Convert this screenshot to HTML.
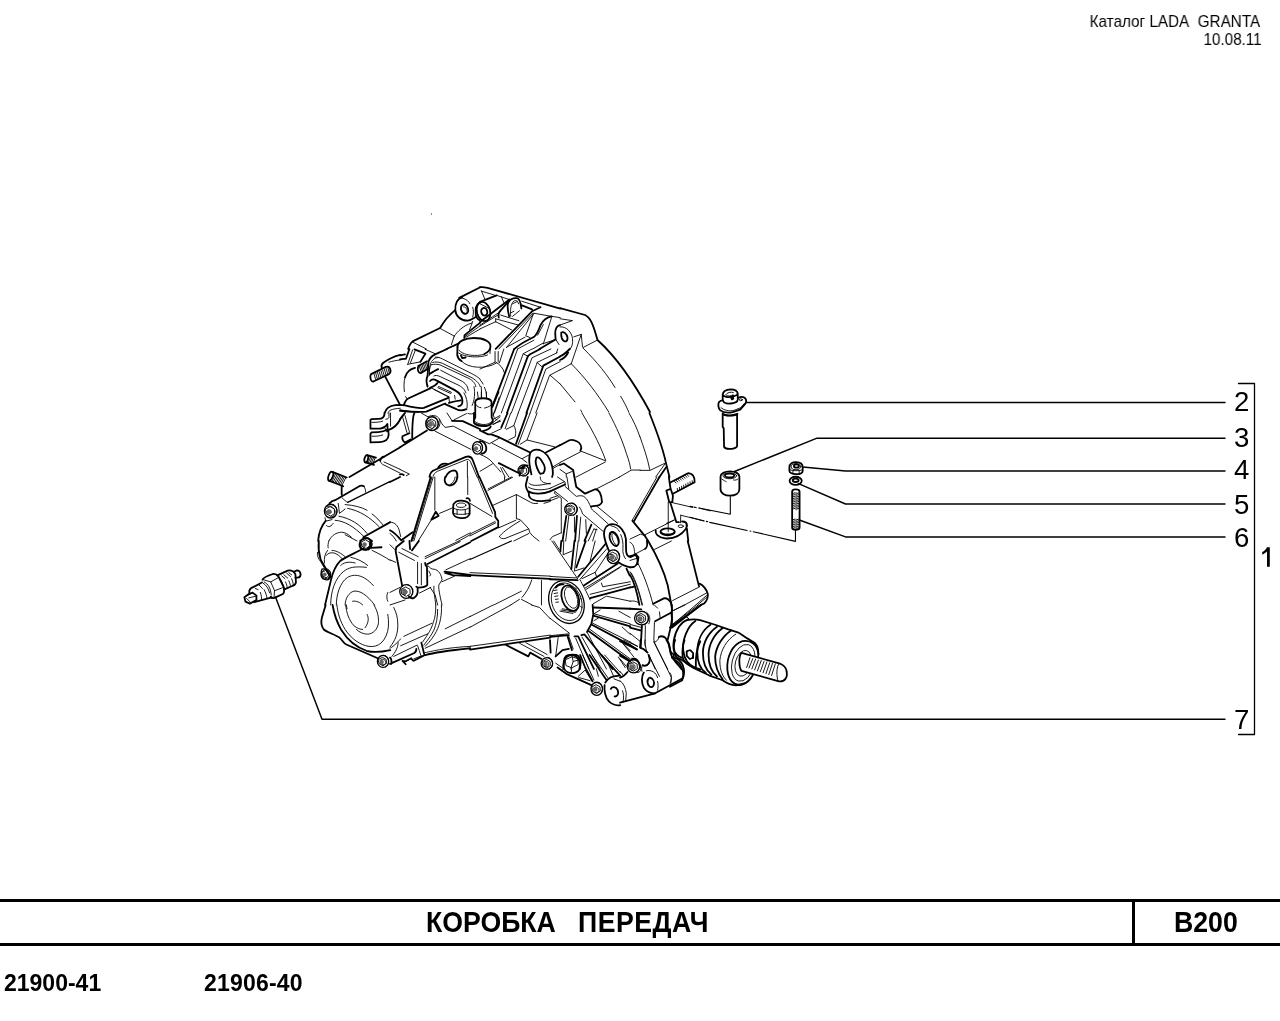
<!DOCTYPE html>
<html><head><meta charset="utf-8">
<style>
html,body{margin:0;padding:0;background:#fff;width:1280px;height:1021px;overflow:hidden}
body{position:relative;font-family:"Liberation Sans",sans-serif;color:#000}
.t{position:absolute;line-height:1;white-space:nowrap;will-change:transform}
.hdr{font-size:15.2px;right:20px;text-align:right}
.num{font-size:26.67px}
.dg{font-size:27.6px}
.b{font-weight:bold}
.hl{position:absolute;left:0;width:1280px;height:3px;background:#000}
svg{position:absolute;left:0;top:0}
#draw *{vector-effect:non-scaling-stroke}
.k{stroke-width:1.8}
.m{stroke-width:1.3}
.n{stroke-width:0.9}
</style></head><body>
<div class="t hdr" style="top:12.7px;font-size:16.4px;transform:scaleX(0.931);transform-origin:100% 0">Каталог LADA&nbsp; GRANTA</div>
<div class="t hdr" style="top:31.2px;right:18.5px;font-size:16.4px;transform:scaleX(0.927);transform-origin:100% 0">10.08.11</div>

<div class="hl" style="top:899px"></div>
<div class="hl" style="top:943px"></div>
<div style="position:absolute;left:1132px;top:899px;width:3px;height:47px;background:#000"></div>
<div class="t num b" style="left:426px;top:908.5px;transform:scaleY(1.1236);transform-origin:0 12.6px">КОРОБКА</div>
<div class="t num b" style="left:578px;top:908.5px;letter-spacing:0.5px;transform:scaleY(1.1236);transform-origin:0 12.6px">ПЕРЕДАЧ</div>
<div class="t num b" style="left:1174px;top:908.5px;transform:scaleY(1.1236);transform-origin:0 12.6px">B200</div>
<div class="t b" style="font-size:23px;left:3.7px;top:972px">21900-41</div>
<div class="t b" style="font-size:23px;left:203.7px;top:972px;letter-spacing:0.2px">21906-40</div>

<div class="t num dg" style="left:1234px;top:388px">2</div>
<div class="t num dg" style="left:1234px;top:424px">3</div>
<div class="t num dg" style="left:1234px;top:455.5px">4</div>
<div class="t num dg" style="left:1234px;top:491px">5</div>
<div class="t num dg" style="left:1234px;top:523.5px">6</div>
<div class="t num dg" style="left:1234px;top:706px">7</div>

<div style="position:absolute;left:431px;top:213px;width:1px;height:2px;background:#888"></div>
<svg width="1280" height="1021" viewBox="0 0 1280 1021" fill="none" stroke="#000" stroke-linejoin="round" stroke-linecap="round">
<!-- bracket -->
<path fill="#000" stroke="none" d="M1267,547.2 L1269.8,547.2 L1269.8,566.8 L1267,566.8 L1267,551.6 C1265.6,553 1264,554 1262.3,554.8 L1262.2,552.1 C1264.4,551 1266,549.4 1267,547.2 Z"/>
<path d="M1238.5 383.5H1254.5V734.5H1238.5" stroke-width="1.3"/>
<!-- leaders -->
<g stroke-width="1.45">
<path d="M746 402.5H1225"/>
<path d="M734.5 471.5L817 438.2H1225"/>
<path d="M802.6 467L845.5 471H1225"/>
<path d="M798.5 483.6L845.5 504H1225"/>
<path d="M800 520.2L845.5 536.9H1225"/>
<path d="M275.5 597L322 719.2H1225"/>
</g>
<!-- DRAWING -->
<g id="draw" stroke-width="1.1">
<!-- Q1 400,285 s15.95 -->
<g transform="translate(400 285) scale(0.0627)">
<path class="k" d="M990,200 C920,210 875,300 882,400 C890,490 960,570 1080,568 C1130,565 1170,530 1215,505"/>
<path class="k" d="M945,205 L1280,35"/>
<path class="n" d="M1000,210 C1060,230 1100,260 1115,300 M1160,355 C1175,400 1175,460 1160,510"/>
<ellipse class="k" cx="1030" cy="385" rx="55" ry="78" transform="rotate(-20 1030 385)"/>
<path class="n" d="M1010,350 C1040,340 1070,380 1070,420 C1070,450 1050,460 1030,450"/>
<path class="k" d="M130,1020 C150,960 170,920 200,900 L640,685 C700,580 780,480 880,400"/>
<path class="n" d="M635,690 L865,815 M865,815 L820,950 M865,815 C920,740 1000,650 1150,605 L1160,580 M1150,610 L1110,710 M200,910 L420,1020"/>
<path class="k" d="M1025,845 L1030,800 L1280,600"/>
<path class="n" d="M1040,820 L1280,650 M1050,835 L1280,700"/>
<path class="k" d="M740,1020 L940,930"/>
<path class="k" d="M1270,280 C1210,310 1200,400 1210,480 C1220,520 1240,550 1270,560"/>
</g>
<!-- T:t480_285 -->
<g transform="translate(480 285) scale(0.06270)">
<path class="k" d="M0,35 C40,30 80,35 120,45 L1280,375"/>
<path class="k" d="M0,270 L265,165"/>
<path class="n" d="M265,165 L460,230 M20,90 L75,220 M30,100 L230,160 M340,185 L380,280 M0,300 L160,380"/>
<path class="k" d="M0,590 L470,232"/>
<path class="n" d="M0,640 L330,420 M0,655 L300,470"/>
<path class="k" d="M300,520 C290,480 295,450 310,430 L470,245"/>
<path class="k" d="M465,500 C445,420 430,330 450,280 C480,220 540,205 590,210 C630,215 650,280 660,375"/>
<path class="n" d="M490,500 C480,400 490,300 540,255 C580,240 600,250 615,300 M520,500 L630,410 M500,440 L540,420 M520,300 L600,260"/>
<path class="k" d="M670,325 L830,390"/>
<path class="n" d="M665,258 L965,355"/>
<path class="k" d="M965,355 L830,418"/>
<path class="k" d="M250,1020 L830,420"/>
<path class="n" d="M300,1020 L845,450 M420,1000 L860,455"/>
<path class="n" d="M250,540 L250,590 M250,540 L600,635 M260,590 L510,720 M330,480 L620,570 M0,700 L250,585"/>
<path class="n" d="M860,450 L1140,500 L1280,520"/>
<path class="k" d="M1145,500 C1060,515 1000,570 965,640 C940,710 915,780 870,820 C800,870 680,900 550,1020"/>
<path class="n" d="M1140,520 L1010,940 M1010,630 L920,800 M850,460 L730,810 L800,840 M720,830 L430,990 M860,880 L600,1020"/>
<path class="k" d="M1275,640 C1220,655 1200,700 1200,770 L1205,870 L950,1020"/>
<path class="n" d="M1000,930 L840,1020 M1210,870 L1260,950 M1010,935 L1200,870"/>
</g>
<!-- /T:t480_285 -->
<!-- T:t560_285s8 -->
<g transform="translate(560 285) scale(0.12500)">
<path class="k" d="M0,185 L200,240 C240,258 262,300 300,440 C400,530 560,720 720,1016"/>
<path class="n" d="M300,440 L185,500 M185,505 C300,620 380,720 440,820 M485,890 C510,930 530,970 550,1016"/>
<path class="n" d="M90,630 L170,395 L110,415 M170,395 L180,495 M90,630 L0,680 M90,630 C200,740 300,870 390,1016 M0,790 C50,850 90,900 120,935 M165,1000 L175,1016"/>
<path class="n" d="M0,320 L100,285 L0,270"/>
<path class="n" d="M0,335 C55,330 95,380 100,430 C105,470 95,500 80,510"/>
<path class="k" d="M10,380 C30,370 55,390 60,420 C62,445 50,455 35,450 C15,440 8,410 10,380 Z"/>
<path class="k" d="M0,570 C30,560 60,530 80,510 M0,600 C30,590 50,570 65,540"/>
</g>
<!-- /T:t560_285s8 -->
<!-- T:t320_349 -->
<g transform="translate(320 349) scale(0.06270)">
<path class="k" d="M1280,95 C1180,120 1080,170 1010,220 C985,240 975,270 985,300"/>
<path class="n" d="M1280,175 C1220,180 1150,195 1100,210"/>
<path class="k" d="M815,400 L1050,285 C1080,275 1110,290 1120,320 C1130,350 1120,385 1100,400 L860,515 C835,525 815,510 808,480 C800,450 800,420 815,400 Z"/>
<path class="n" stroke-width="1.2" d="M887,486 L862,398 M914,473 L889,386 M942,461 L917,373 M969,448 L944,361 M997,436 L972,348 M1024,423 L999,336 M1052,411 L1027,323 M1079,398 L1054,311 M1107,386 L1082,298"/>
<path class="k" d="M1040,440 L1270,880"/>
<path class="k" d="M1030,1020 C1050,950 1110,905 1200,895 L1280,893"/>
<path class="n" d="M1085,1020 C1090,980 1140,955 1280,945"/>
</g>
<!-- /T:t320_349 -->
<!-- T:t400_349 -->
<g transform="translate(400 349) scale(0.06270)">
<path class="k" d="M230,5 L405,75 L325,205 M0,100 L80,85 M0,165 L95,155 M150,0 L95,155"/>
<path class="n" d="M120,245 L325,205 M200,15 L125,240 M240,30 L165,225 M400,5 L560,75"/>
<path class="k" d="M750,0 L560,85 C510,110 470,150 455,200 L440,430"/>
<path class="k" d="M290,270 L430,195 M440,320 L330,385 C300,385 280,350 285,300 C288,280 292,272 300,268"/>
<path class="n" stroke-width="1.2" d="M338,361 L307,275 M360,349 L330,263 M383,337 L352,251 M405,325 L375,239 M428,313 L397,227 M450,301 L419,215"/>
<path class="k" d="M240,300 C150,320 100,380 80,450"/>
<path class="n" d="M80,450 C60,520 60,600 70,680 M90,760 L110,790"/>
<path class="n" d="M560,130 C600,125 640,140 680,160 L1100,370 C1200,420 1260,460 1280,480 M520,215 C560,200 620,205 680,230 L1150,460 C1230,510 1270,560 1280,600 M500,250 C540,240 600,240 640,255 L1100,470 C1170,510 1200,550 1210,600 M540,430 C560,415 600,420 640,440 L940,580 C1010,620 1040,660 1050,700 M650,340 L1000,520 C1060,560 1080,600 1090,660 M470,370 C470,300 480,260 500,250"/>
<path class="k" d="M610,320 C560,340 500,380 470,400 M440,430 C420,470 420,540 440,600 M480,510 C500,485 540,480 580,500 L880,660 C950,700 990,750 995,820 C1000,880 970,910 930,915 M600,540 C580,570 540,600 480,620"/>
<path class="k" d="M60,890 C80,840 100,800 130,790 L490,625 M0,890 L80,900 C200,930 330,950 380,940 L770,780"/>
<path class="n" d="M510,625 L790,770 M540,645 L780,765 M620,600 L820,690 L810,710 L610,620 Z M0,970 C100,990 200,1000 300,1010 M780,780 L790,860"/>
<path class="k" d="M780,860 C850,840 920,825 970,820 M720,880 L900,960 C950,985 1000,985 1060,960"/>
<path class="k" d="M1200,850 C1220,810 1250,790 1280,790"/>
</g>
<!-- /T:t400_349 -->
<!-- T:t480_349 -->
<g transform="translate(480 349) scale(0.06270)">
<path class="k" d="M195,920 L545,0 M430,1020 L765,110 L800,85 L960,0 M740,1020 L1010,265 L1280,120"/>
<path class="n" d="M230,1020 L600,0 M340,1020 L690,75 L830,0 M500,1020 L830,140 L1130,0 M610,1020 L900,250 L910,215 L1230,60 M800,1020 L1050,320 L1280,200 M890,1020 L1110,420 L1280,330 M1120,420 L1280,560 M690,75 L770,120 M910,215 L990,285 M1240,0 L1220,60"/>
<path class="n" d="M0,320 L240,210 L240,40 M290,210 L290,40 M250,210 C310,240 370,300 390,380 M380,0 L310,220"/>
<path class="n" d="M20,600 C25,650 25,720 25,780 M70,610 C90,650 105,700 105,780 M0,490 C20,510 40,540 50,560"/>
</g>
<!-- /T:t480_349 -->
<!-- T:t320_413 -->
<g transform="translate(320 413) scale(0.06270)">
<path class="k" d="M1030,0 C1030,60 1000,95 930,95 L820,98 L805,110 L805,250 L960,248 C1010,240 1050,220 1075,175 L1080,290"/>
<path class="k" d="M1080,260 C1040,285 1000,302 930,305 L820,310 L805,330 L805,470 L950,465 C1040,460 1090,420 1095,350 L1090,290"/>
<path class="n" d="M830,150 C900,150 960,145 1000,130 M830,370 C900,375 960,365 1000,350 M1020,220 C1040,240 1050,270 1060,300 M1100,0 L1100,60 C1100,80 1090,95 1050,100 M1125,0 L1125,210"/>
<path class="k" d="M1280,100 C1240,180 1180,240 1100,270"/>
<path class="k" d="M470,1020 L1280,545"/>
<path class="n" d="M960,760 C970,800 990,820 1020,830 L1280,960 M1020,780 L1280,900"/>
<path class="k" d="M960,760 C970,720 990,695 1020,695"/>
</g>
<!-- /T:t320_413 -->
<!-- T:t400_413 -->
<g transform="translate(400 413) scale(0.06270)">
<path class="k" d="M0,100 C30,60 60,20 80,0 M230,0 C200,50 195,150 195,400"/>
<path class="n" d="M40,60 L110,310 M80,40 L150,300"/>
<path class="k" d="M40,370 C30,400 40,450 80,470 L175,420 M40,370 L150,320"/>
<path class="k" d="M0,545 L430,280"/>
<ellipse class="m" cx="510" cy="170" rx="100" ry="110"/>
<ellipse class="n" cx="485" cy="195" rx="60" ry="70"/>
<path class="n" d="M450,60 C520,20 600,40 630,100 C650,160 630,230 590,260"/>
<path class="n" d="M340,0 L460,70 M630,100 C650,140 680,200 720,230 L850,210 L1280,430 M560,290 L1130,580"/>
<path class="n" d="M750,0 L830,125 M860,110 L1060,10"/>
<path class="k" d="M830,125 L1000,130 L1280,260 M1180,0 C1180,60 1175,110 1190,140 L1280,170"/>
<ellipse class="m" cx="1235" cy="555" rx="80" ry="100"/>
<path class="k" d="M470,1020 C480,950 510,920 560,905 L1050,700 C1100,685 1140,700 1160,750 L1260,1020"/>
<path class="n" d="M530,1000 C550,950 590,930 620,920 L1070,740 C1100,735 1120,760 1130,790 L1230,1020 M1075,770 L1075,1020"/>
<path class="k" d="M730,1020 C760,950 810,920 860,915 C900,915 920,960 915,1020 M610,870 C640,820 700,800 750,810"/>
<path class="n" d="M0,900 L150,975 L100,1000"/>
<path class="k" d="M0,980 C20,970 40,975 60,990"/>
</g>
<!-- /T:t400_413 -->
<!-- T:t480_413 -->
<g transform="translate(480 413) scale(0.06270)">
<path class="n" d="M210,0 C210,60 230,100 270,110 M200,180 L330,130 M200,160 L320,60"/>
<path class="k" d="M340,230 L440,0 M575,490 L750,0"/>
<path class="n" d="M400,250 L490,0 M420,260 L540,200 L610,0 M540,200 C570,250 580,310 560,380 L460,430 M610,500 L800,0 M750,430 L910,0 M640,500 L750,430 L1190,540"/>
<path class="k" d="M0,280 L130,340 L180,340 L310,390 L800,630"/>
<path class="n" d="M0,420 L150,490 L310,400 M190,320 L340,250 M190,480 L670,730 L780,670 M680,740 L750,790"/>
<path class="k" d="M800,640 C830,590 900,580 950,590 C1050,620 1120,720 1150,850 C1170,950 1160,1000 1150,1020 M800,640 C780,700 780,780 800,880 L820,980"/>
<path class="k" d="M900,710 C880,760 890,850 940,940 L960,970 L1010,960 C1040,920 1040,850 1000,790 C970,730 930,700 900,710 Z"/>
<path class="k" d="M1050,630 L1280,510"/>
<path class="n" d="M1170,880 L1280,820 M1160,860 L1280,790"/>
<path class="k" d="M300,800 L600,950 M650,880 C700,840 740,830 760,840 M630,1000 C640,950 660,900 700,880"/>
<path class="n" d="M0,930 L200,810 M0,660 C80,690 150,730 200,790 C250,850 300,900 330,940 M330,870 C350,920 380,980 400,1020 M360,870 L460,1020"/>
<path class="k" d="M0,450 C50,450 90,490 100,550 C105,600 80,640 30,650"/>
</g>
<!-- /T:t480_413 -->
<!-- T:t560_413 -->
<g transform="translate(560 413) scale(0.06270)">
<path class="k" d="M0,515 L150,435 C170,428 200,428 230,435 C290,450 340,500 340,560 L325,600"/>
<path class="n" d="M350,0 C480,220 620,450 730,760 M325,605 L720,760 M325,620 L0,790 M725,780 L260,1020 M780,0 C900,220 1000,450 1060,650 C1100,760 1120,830 1125,890 M1100,0 C1170,120 1230,250 1275,380 M1135,910 L1280,910 M1130,915 L950,1020 M0,900 L100,970 L200,930 M100,970 L100,1020"/>
<path class="k" d="M0,830 L60,805 L210,910 L230,1020"/>
</g>
<!-- /T:t560_413 -->
<!-- T:t640_413 -->
<g transform="translate(640 413) scale(0.06270)">
<path class="k" d="M150,0 C250,250 350,500 410,780 L470,1020"/>
<path class="n" d="M0,380 C60,550 120,720 155,900 M0,915 L160,915 L400,800 M250,1020 L400,810"/>
<path class="k" d="M310,1020 L420,860"/>
</g>
<!-- /T:t640_413 -->
<!-- T:t310_477 -->
<g transform="translate(310 477) scale(0.06270)">
<path class="k" d="M505,150 L505,280 M310,420 C330,400 360,380 400,370 L800,140 C830,135 850,140 860,150"/>
<path class="m" d="M600,405 L1280,70"/>
<path class="n" d="M860,150 C880,180 890,210 885,240 M510,330 C540,360 570,390 600,405"/>
<ellipse class="m" cx="330" cy="545" rx="100" ry="110"/>
<path class="n" d="M270,470 C320,450 380,480 400,540 C410,600 370,640 320,640 M260,560 C280,520 320,520 340,560"/>
<path class="k" d="M250,700 C180,780 140,880 130,1020"/>
<path class="n" d="M240,650 C240,680 250,700 270,700 L350,680 M260,770 C280,800 320,810 370,740 M560,440 C700,450 820,480 910,530 M600,500 C800,540 950,640 1100,790 M990,590 C1060,640 1110,700 1160,760 M460,625 C650,660 800,760 910,900 M400,690 C550,700 700,790 860,950 M450,420 L470,580 L560,510"/>
<path class="k" d="M850,960 L1280,720 M800,1020 C830,990 880,970 930,980 L990,1020"/>
<path class="n" d="M300,1020 C350,920 420,890 500,880 C560,880 620,920 660,960 M560,920 L750,1020"/>
</g>
<!-- /T:t310_477 -->
<!-- T:t390_477 -->
<g transform="translate(390 477) scale(0.06270)">
<path class="k" d="M0,80 L160,0 M650,0 L340,1020"/>
<path class="n" d="M690,0 L380,1020 M670,0 L360,1020 M715,0 L715,530 M1240,0 L1240,280 M790,580 L990,495 M655,690 L450,1020"/>
<path class="k" d="M880,0 C860,60 880,120 940,135 C990,140 1030,110 1060,60 L1075,0"/>
<path class="n" d="M1040,0 C1030,60 1000,100 960,120"/>
<path class="k" d="M660,680 L730,555 L775,620 Z"/>
<path class="k" d="M1010,440 C1040,390 1090,375 1140,378 C1200,382 1260,410 1270,450 L1270,590 C1250,640 1190,660 1130,655 C1060,650 1010,620 1005,570 Z"/>
<ellipse class="n" cx="1135" cy="450" rx="75" ry="35"/>
<path class="n" d="M1020,500 C1050,520 1100,525 1140,525 C1200,525 1240,510 1265,490 M1070,520 L1070,600 M1200,520 L1200,600 M1020,580 C1060,600 1180,605 1260,580"/>
<path class="k" d="M1220,340 C1250,330 1270,350 1275,380"/>
<path class="n" d="M0,720 C80,720 130,780 150,860 L170,950"/>
<path class="k" d="M0,850 C60,880 120,940 180,1010 L360,880"/>
<path class="n" d="M0,900 C40,930 80,980 100,1020 M1050,1010 L1280,890 M1100,1020 L1280,920"/>
</g>
<!-- /T:t390_477 -->
<!-- T:t470_477 -->
<g transform="translate(470 477) scale(0.06270)">
<path class="k" d="M150,0 L400,560 L405,640 L450,700 L450,800 L20,1020"/>
<path class="n" d="M120,0 L360,580 M0,420 L350,630 M0,910 L400,710 M0,940 L410,730 M285,215 L680,5 M290,190 L660,0 M550,0 L550,40"/>
<path class="n" d="M370,450 L740,280 L960,400 C990,420 1040,430 1080,420 M740,280 L740,660 M460,810 L730,690 M740,665 L800,680 L940,830 L950,880 L1000,940 L1100,1020 M470,950 C500,900 600,820 800,700 M470,950 C480,980 520,990 560,980 L930,830 M700,1020 L940,900"/>
<path class="k" d="M920,0 C910,50 890,100 890,140 C900,200 930,240 940,260 L940,300 C960,360 1050,390 1150,385 L1280,370 M940,230 C1000,270 1150,280 1280,230"/>
<path class="n" d="M940,100 C980,140 1050,150 1280,100 M930,160 C1000,210 1150,220 1280,180 M1120,0 C1120,60 1150,100 1280,110 M1180,420 L1280,390"/>
</g>
<!-- /T:t470_477 -->
<!-- T:t550_477 -->
<g transform="translate(550 477) scale(0.06270)">
<path class="k" d="M0,230 L240,120"/>
<path class="n" d="M0,180 L220,80 M0,380 L130,330 M0,340 L120,300 M120,0 L240,80 L240,130 M270,0 L300,190 M240,150 L420,310 C450,300 500,290 540,310 C600,350 630,430 650,480 M80,230 L280,390 M80,230 L70,260 L180,340 L180,890 M0,1000 L40,950 L180,890"/>
<path class="k" d="M390,0 C400,60 410,120 420,160 L550,260 M560,265 L720,195 C780,200 820,260 830,400 C810,440 760,460 720,460 L660,470"/>
<path class="n" d="M740,190 L1110,0 M650,480 C660,520 690,540 720,560 L930,750 M740,460 L1080,740 M470,480 C500,520 510,560 520,590 L850,870"/>
<ellipse class="m" cx="335" cy="515" rx="100" ry="98"/>
<path class="n" d="M260,470 C300,450 360,470 380,520 M280,560 C300,600 340,600 360,580"/>
<path class="k" d="M260,620 L200,1020 M430,620 L400,1020 M660,760 L550,1020"/>
<path class="n" d="M300,620 L250,1020 M390,640 L390,880 M490,640 L460,1020 M570,680 L580,900 M700,830 L610,1020 M740,830 L680,1020 M700,830 L750,840"/>
</g>
<!-- /T:t550_477 -->
<!-- T:t630_477 -->
<g transform="translate(630 477) scale(0.06270)">
<path class="k" d="M470,0 L60,710 M40,700 L230,930 L290,1020"/>
<path class="n" d="M430,0 L35,690 M0,990 L170,910 L250,940 M240,920 L700,690 M580,740 L720,680"/>
<path class="k" d="M620,0 C630,80 640,150 650,200 M580,215 L650,190 L685,300 L675,400 L625,400 Z M640,400 L740,720 L780,720"/>
<path class="n" d="M610,400 L610,870"/>
<path class="n" d="M680,410 L1000,485 M1040,485 L1060,490 M1100,495 L1280,540 M810,610 L1180,700 M1220,710 L1240,712 M810,610 L805,730"/>
<path class="k" d="M410,850 C400,900 440,960 560,980 C700,990 800,950 890,830 L910,780 C910,730 880,710 830,710 M900,760 C910,850 920,950 930,1020"/>
<ellipse class="k" cx="600" cy="875" rx="115" ry="55"/>
<path class="k" stroke-width="3" d="M500,885 C530,925 670,930 705,885"/>
<ellipse class="n" cx="810" cy="785" rx="42" ry="22"/>
</g>
<!-- /T:t630_477 -->
<!-- T:t310_541 -->
<g transform="translate(310 541) scale(0.06270)">
<path class="k" d="M140,0 C130,100 140,200 170,300 L340,590"/>
<path class="n" d="M120,180 C110,230 130,280 170,330 L320,580 M300,0 C290,40 280,80 290,110 M280,150 C240,200 220,270 230,350"/>
<path class="m" d="M190,450 C240,430 300,480 320,560 C320,600 300,620 270,620 C220,615 180,590 175,540 C175,500 180,470 190,450 Z"/>
<path class="k" d="M240,1020 L340,600 C370,480 420,380 480,320 C540,270 620,240 860,115"/>
<path class="n" d="M350,150 C420,150 500,200 560,250 M260,230 C280,200 320,180 380,190 C420,200 480,240 520,290 M490,390 C530,350 600,320 720,350 M650,260 C750,280 850,330 920,390 M330,1020 C330,800 400,600 530,490 C620,420 700,400 900,420 M420,1020 C420,850 480,660 600,580 C700,520 850,530 1010,710 M560,1020 C560,920 620,820 700,800 C800,790 900,850 1030,1020 M680,960 C740,950 800,980 840,1020 M990,150 C1100,200 1200,260 1280,310 M1240,820 C1220,860 1220,920 1240,960"/>
<path class="k" d="M800,20 C780,60 790,110 830,130 C880,150 930,130 950,90 M960,0 L975,110 L1140,100"/>
</g>
<!-- /T:t310_541 -->
<!-- T:t390_541 -->
<g transform="translate(390 541) scale(0.06270)">
<path class="k" d="M220,0 L100,100 L90,160 L195,720"/>
<path class="n" d="M0,60 L80,140 M0,300 L90,340 M190,120 L450,250 M140,180 L390,310 M440,340 L440,680 M500,360 L500,700 M560,250 L1100,0 M560,280 L1120,10 M0,820 L160,740 M0,1020 L240,940 M470,830 L650,740"/>
<path class="k" d="M320,130 L310,0 M350,150 L460,0"/>
<path class="k" d="M560,350 C560,380 570,400 590,410 L595,700 C580,720 540,740 450,745 L420,730 M440,760 C450,830 430,880 380,910 C340,920 310,900 300,880"/>
<path class="k" d="M590,370 L1280,20"/>
<ellipse class="m" cx="260" cy="805" rx="105" ry="110"/>
<path class="n" d="M190,790 C200,760 250,760 270,800 C280,840 240,870 210,850"/>
<path class="n" d="M600,390 C640,430 660,450 700,450 C780,460 820,540 830,620 L780,700 C770,750 790,850 830,1020 M640,740 L720,860 L760,1020 M700,720 C690,800 720,900 730,1020 M890,460 L1280,280 M830,650 L1030,560 M620,480 L650,540 L630,560"/>
<path class="k" d="M870,490 L1280,540 M880,510 L1000,545 L1280,560"/>
</g>
<!-- /T:t390_541 -->
<!-- T:t470_541 -->
<g transform="translate(470 541) scale(0.06270)">
<path class="k" d="M0,545 L1280,605"/>
<path class="n" d="M0,505 L1280,560 M985,620 C950,740 890,830 830,900 M380,1020 L820,800 M650,1020 L790,930 M820,930 L990,1020 M1140,630 L1140,1020"/>
<path class="m" d="M0,295 L660,0"/>
</g>
<!-- /T:t470_541 -->
<!-- T:t550_541 -->
<g transform="translate(550 541) scale(0.06270)">
<path class="n" d="M30,0 L440,600 M60,0 L150,140 M220,0 L210,220 L350,160 M450,0 L390,480 L540,430 M720,0 L640,320 M910,120 L480,610 M900,230 L720,500 L510,600 M720,500 L740,560 M1140,400 L560,750 M1120,420 L580,770 M820,670 L840,730 L1280,650 M640,850 L1280,690 M690,1000 L900,880 L1280,960 M480,620 C520,700 580,800 640,940"/>
<path class="k" d="M180,0 L165,170 M390,0 L340,450 M570,0 L420,420 M890,40 L450,570 M1080,360 L540,710 M640,910 L1280,740"/>
<ellipse class="m" cx="1010" cy="250" rx="100" ry="110"/>
<path class="n" d="M930,230 C960,200 1020,210 1040,260 C1050,300 1020,330 990,320"/>
<path class="k" d="M1090,340 C1150,380 1200,410 1280,420 M1220,440 L1270,550"/>
<path class="k" d="M0,610 L440,625"/>
<path class="n" d="M0,565 L430,590"/>
</g>
<!-- /T:t550_541 -->
<!-- T:t630_541 -->
<g transform="translate(630 541) scale(0.06270)">
<path class="k" d="M290,0 C420,220 540,480 600,700 L660,1020 M920,0 L1100,720"/>
<path class="k" d="M270,0 C280,60 270,110 240,125 M0,240 C40,240 70,220 90,210 L135,260 C130,330 100,400 60,415 L0,420 M0,540 C60,640 110,800 150,1020 M0,740 C30,740 60,730 70,720"/>
<path class="n" d="M0,20 C50,40 70,100 75,200 M80,210 L240,125 M390,135 L660,0 M0,310 L130,270 M120,345 C220,530 300,760 370,1020 M0,490 C80,620 140,800 190,1020 M20,510 C100,640 150,820 200,1020 M680,950 L1110,730 M870,1020 L1220,830 M0,960 C50,950 100,960 130,980"/>
<path class="k" d="M370,1000 L540,915 C580,905 620,930 660,990 M1110,680 C1170,710 1220,780 1240,840 C1250,900 1220,960 1180,1000 L1130,1020"/>
<path class="n" d="M1050,1020 L1220,870 M1080,1020 L1230,890"/>
</g>
<!-- /T:t630_541 -->
<!-- T:t670_605 -->
<g transform="translate(670 605) scale(0.09405)">
<path class="k" d="M180,160 C230,150 280,150 320,160 L480,210 L620,260 L720,290 C760,310 790,340 830,360 L880,390 C920,410 940,450 940,520"/>
<path class="k" d="M60,540 C80,570 100,575 120,580 L250,670 L420,750 L560,800 C600,830 640,850 700,855 L800,830"/>
<path class="k" d="M180,160 C120,180 60,260 40,380 C30,450 40,500 60,540"/>
<path class="k" d="M270,170 C180,230 130,380 140,480 C150,580 200,640 270,670 M430,210 C340,270 290,380 290,500 C290,600 320,680 380,720 M500,230 C410,290 350,400 350,510 C350,620 390,700 440,740 M560,245 C470,310 410,420 410,530 C410,640 450,720 500,760 M650,270 C560,330 490,440 480,550 C480,660 520,740 560,790"/>
<path class="n" d="M700,310 C600,370 540,480 530,590 C530,700 560,760 600,800"/>
<path class="m" d="M180,490 L220,480 L245,510 L240,560 L210,575 L180,540 Z"/>
<path class="k" d="M940,520 C930,680 870,820 760,850 C680,860 620,800 610,690 C600,560 660,420 770,385 C860,370 930,420 940,520"/>
<ellipse class="n" cx="780" cy="615" rx="120" ry="200" transform="rotate(15 780 615)"/>
<ellipse class="n" cx="780" cy="620" rx="85" ry="140" transform="rotate(15 780 620)"/>
<path class="k" fill="#fff" d="M760,510 L1160,620 C1230,640 1250,700 1240,760 C1230,800 1190,820 1150,810 L760,700 C730,660 730,540 760,510 Z"/>
<path class="n" d="M1160,620 C1130,660 1130,760 1150,810"/>
<path class="n" stroke-width="1.4" d="M850,560 L815,665 M880,570 L840,670 M910,575 L870,680 M940,585 L900,690 M970,590 L930,700 M1000,600 L960,710 M1030,605 L990,720 M1060,615 L1020,730 M1090,620 L1050,740 M1120,625 L1080,750"/>
<path class="k" d="M20,0 L20,200 M0,240 L330,0 M0,870 L130,800 C150,750 140,680 100,620 C70,590 40,580 20,560"/>
<path class="n" d="M30,60 L160,0 M20,210 L300,0 M170,120 L200,150 M0,720 C20,740 20,800 0,830"/>
</g>
<!-- /T:t670_605 -->
<!-- T:t310_605 -->
<g transform="translate(310 605) scale(0.06270)">
<path class="k" d="M250,0 L190,200 C170,280 180,340 220,390 C280,440 400,470 470,520 C520,560 530,610 580,630 L1080,850"/>
<path class="k" d="M360,0 C380,120 420,260 500,400 C600,560 750,680 900,730 C1000,760 1100,760 1280,720"/>
<path class="n" d="M430,0 C440,120 480,260 560,390 C660,540 800,640 940,660 C1020,670 1080,650 1130,610 C1200,550 1240,450 1250,350 C1255,260 1250,200 1240,150 M570,0 C580,120 620,240 700,330 C750,370 800,390 840,390 M1020,0 C1080,100 1100,200 1090,300 C1070,400 1000,460 920,465 C850,465 780,430 740,390 M910,150 C940,200 940,280 880,360 M580,0 L590,60"/>
<ellipse class="m" cx="1165" cy="900" rx="90" ry="95"/>
<path class="n" d="M1120,880 C1140,850 1200,860 1210,910 C1210,950 1170,960 1140,940"/>
</g>
<!-- /T:t310_605 -->
<!-- T:t390_605 -->
<g transform="translate(390 605) scale(0.06270)">
<path class="n" d="M60,40 C100,120 125,200 125,320 C125,450 90,560 0,670 M170,540 C100,620 30,680 0,690 M130,600 C130,680 80,760 30,820 M220,500 L670,290 M170,650 L600,460 M60,820 L430,640 M880,380 L1280,180 M560,690 L1280,350"/>
<path class="n" d="M730,0 C730,120 720,200 690,280 C660,380 620,450 520,590 M760,70 C760,200 740,300 700,400 C670,460 620,540 540,640 M820,0 C830,150 800,300 740,420 C700,500 640,580 560,660"/>
<path class="k" d="M0,940 L380,770 C400,760 420,740 420,700 M500,600 L550,800 L380,890 C360,890 350,870 340,850 L240,900 L200,890 M200,890 L250,945 M0,840 C20,850 30,900 20,940"/>
<path class="n" d="M440,650 C460,700 480,760 490,800 M380,860 L500,810 M250,900 L330,860"/>
<path class="k" d="M560,800 C700,760 900,730 1280,690"/>
<path class="n" d="M560,760 C700,730 900,680 1280,660"/>
</g>
<!-- /T:t390_605 -->
<!-- T:t470_605 -->
<g transform="translate(470 605) scale(0.06270)">
<path class="n" d="M0,185 L370,0 M0,355 L650,0 M980,0 L1110,40 L1280,220 M0,660 L1280,480 M790,610 L1180,820 M890,600 L1230,790"/>
<path class="k" d="M0,710 L1280,520 M560,630 L930,820 L960,760 L1140,860"/>
</g>
<!-- /T:t470_605 -->
<!-- T:t550_605 -->
<g transform="translate(550 605) scale(0.06270)">
<path class="k" d="M680,0 L690,150 L660,300 L590,430"/>
<path class="k" d="M690,40 L1280,60 M690,170 L1280,340 M660,310 L1280,640 M620,420 L1280,900 M500,480 L550,470 L1000,1020 M390,500 L450,500 L700,1020"/>
<path class="n" d="M700,140 L800,80 M700,140 L1280,300 M700,250 L770,210 M680,290 L1280,590 M640,390 L1280,860 M510,510 L800,1020 M410,530 L620,1020 M600,450 L900,1020"/>
<path class="k" d="M0,510 L300,480 M280,500 L350,720 M0,560 L10,760 M90,820 L200,720 L300,700"/>
<path class="n" d="M0,490 L300,460 M0,210 L310,450 M300,500 L370,700 M130,520 L90,820 M1100,100 L1280,200 M1150,350 L1280,470 M1170,620 L1280,730 M1090,830 L1200,1000 M940,940 L990,1020"/>
<path class="k" d="M220,900 C240,840 300,800 360,800 C430,810 480,870 480,950 L470,1020 M220,900 L210,1020"/>
<path class="n" d="M350,810 L370,900 L480,870 M370,900 L330,1020"/>
</g>
<!-- /T:t550_605 -->
<!-- T:t630_605 -->
<g transform="translate(630 605) scale(0.06270)">
<ellipse class="m" cx="185" cy="210" rx="112" ry="108"/>
<path class="n" d="M110,190 C130,150 200,150 220,210 C230,260 190,290 150,280 M270,120 C320,160 330,240 300,300"/>
<path class="k" d="M0,60 L180,70 M0,360 L180,410 M0,640 L110,710 M190,330 L170,680"/>
<path class="n" d="M0,310 L190,360 M0,590 L120,660 M0,450 L160,580 M245,330 L240,640 L270,750 M160,680 L240,710 L270,750 M300,790 L400,1020 M290,800 C320,850 320,920 280,960 L200,970 M470,110 L480,200 M690,90 L860,0 M390,0 L440,50 M390,280 L380,560 L400,590 C420,580 450,560 460,520 M380,590 L600,1020 M680,310 L1050,0 M900,190 L940,220"/>
<path class="k" d="M20,870 C80,830 150,870 160,1000 M400,260 L660,120 M660,0 C670,50 670,100 660,120 L670,220 L650,350 L600,560 M460,510 C500,490 540,500 570,530 C620,590 640,660 640,740 C650,800 680,850 720,900 C760,950 800,990 820,1020 M670,360 L1130,0"/>
</g>
<!-- /T:t630_605 -->
<!-- T:t540_655 -->
<g transform="translate(540 655) scale(0.06270)">
<ellipse class="m" cx="110" cy="135" rx="92" ry="92"/>
<path class="n" d="M50,120 C70,90 130,90 140,140 C140,180 100,200 70,180"/>
<path class="n" d="M250,130 L350,200 M610,340 L720,240 L830,420 M620,360 L800,410 M680,0 L860,400 M830,0 L1080,360 M1030,0 L1280,280 M900,220 L930,340 M1100,170 L1170,330 M1180,380 L1280,420"/>
<path class="k" d="M280,200 L420,300 L820,480 M640,0 L720,200 L840,420 M790,0 L1060,400 M980,0 L1270,320"/>
<ellipse class="m" cx="905" cy="540" rx="92" ry="105"/>
<path class="n" d="M850,540 C860,500 920,500 940,550 C950,590 910,610 880,600"/>
<path class="k" d="M1040,440 C1080,370 1160,330 1280,330 M1030,480 C1020,560 1040,680 1100,740 C1150,790 1230,810 1280,800 M1130,540 C1150,500 1210,500 1240,560 C1260,620 1230,670 1190,660"/>
</g>
<!-- /T:t540_655 -->
<!-- T:t620_640 -->
<g transform="translate(620 640) scale(0.06270)">
<path class="k" d="M0,20 L270,150 M0,250 L140,330 M0,600 C40,590 80,560 120,510"/>
<path class="n" d="M60,0 L280,100 M50,60 L220,270 M0,300 L100,420 M0,500 L50,560 M0,220 L150,310"/>
<ellipse class="m" cx="215" cy="420" rx="100" ry="105"/>
<path class="n" d="M150,400 C170,360 230,370 240,420 C245,470 210,490 180,480 M190,290 C260,290 310,340 330,420 C340,480 320,520 280,520"/>
<path class="k" d="M320,120 L330,0 M320,120 C360,130 400,160 440,200 M360,400 C400,420 440,400 460,370 C480,340 480,300 460,250"/>
<path class="n" d="M400,0 C390,40 400,80 410,110 M450,230 L630,580 M540,20 L820,600 L810,700 M360,400 C340,430 340,470 350,500"/>
<path class="k" d="M380,520 C340,580 340,680 380,760 C420,820 480,850 560,850 L1000,610 C1030,550 1030,480 1000,400 C970,340 930,300 880,290 M460,610 C430,640 430,700 470,740 C500,760 530,750 540,710 C550,670 530,620 480,600"/>
<path class="n" d="M420,490 C500,470 580,520 600,600 M600,660 C610,700 610,760 600,800"/>
<path class="k" d="M0,1000 L560,850 M740,0 C770,40 790,80 790,130 C800,180 830,220 860,230 M860,230 C850,260 860,290 880,290 M880,0 C860,50 850,120 870,180 C890,230 930,260 980,280 M1030,0 C1000,80 990,180 1000,280 C1020,350 1060,400 1220,450 L1280,470 M1280,20 C1230,120 1200,250 1210,450"/>
<path class="m" d="M1060,180 L1110,160 L1170,210 L1170,290 L1110,300 L1060,250 Z"/>
<path class="n" d="M0,650 C60,690 90,770 100,850 L90,980 M40,810 C60,850 60,920 50,990"/>
</g>
<!-- /T:t620_640 -->
<!-- T:p7 -->
<g transform="translate(240 560) scale(0.05485)">
<path class="k" d="M80,680 L160,620 L230,595 L300,650 L300,730 L180,795 L100,760 Z"/>
<path class="n" d="M120,700 L180,760 M130,650 L230,600 M160,690 L290,660"/>
<path class="k" d="M170,600 L170,560 C180,520 210,500 250,490 L400,410 M260,770 L580,680"/>
<path class="n" d="M280,520 L330,540 M350,460 L410,520 M370,590 C390,640 400,700 390,740 M440,540 C470,600 490,650 490,700 M420,420 C480,460 520,520 540,600 M440,400 C520,440 560,520 570,640"/>
<path class="k" d="M410,360 C420,330 460,300 600,255 C650,250 680,270 700,300 L780,460 L800,500 C810,560 810,600 780,620 L630,690 C600,700 570,690 560,670"/>
<path class="n" d="M430,360 L560,400 L700,320 M560,400 L630,560 L790,500 M630,560 L620,680"/>
<path class="k" d="M680,280 L870,195 C900,185 940,195 980,215 L1010,260 L1020,400 C1020,440 990,460 960,470 L800,540"/>
<path class="n" d="M760,290 L820,340 M800,270 L870,330 M850,240 L920,300 M890,230 L940,270 M830,400 C850,440 860,480 860,500 M890,380 C910,420 920,460 920,480 M940,340 C960,380 970,420 970,450 M710,310 C760,380 790,440 800,520"/>
<path class="k" d="M980,215 L1040,190 C1080,190 1100,230 1105,260 C1105,300 1080,320 1050,320 L1010,320"/>
</g>
<!-- /T:p7 -->
<!-- T:p2 -->
<g transform="translate(710 385) scale(0.06859)">
<path class="k" d="M185,220 L185,140 C190,100 240,70 300,65 C360,65 400,90 405,130 L405,210 M185,140 C200,170 260,185 320,170 C370,160 405,140 405,120"/>
<path class="n" d="M230,140 C250,110 300,95 340,110 M240,150 C260,165 310,165 340,150"/>
<path class="k" d="M300,170 L320,210 L340,200 L330,150 M190,230 C200,260 250,275 300,270 C350,265 390,250 400,230"/>
<path class="k" d="M130,250 C115,280 120,340 150,370 C190,400 260,410 330,395 L440,360 L510,280 C530,250 530,210 510,190 C480,170 440,170 410,190 M130,250 C150,230 170,225 185,225"/>
<path class="n" d="M160,330 C200,370 280,385 350,370 L450,330 L500,270"/>
<ellipse class="n" cx="450" cy="215" rx="22" ry="14"/>
<path class="k" d="M185,410 L185,610 L200,630 L205,900 C220,930 280,935 320,930 C360,925 390,910 395,890 L395,420 M185,420 C220,450 330,450 400,420"/>
<path class="n" d="M200,440 C240,460 330,460 390,440"/>
</g>
<!-- /T:p2 -->
<!-- T:p3 -->
<g transform="translate(710 455) scale(0.04895)">
<path class="k" d="M215,440 C215,380 300,335 410,335 C520,335 600,380 600,440 L600,700 C600,780 520,830 410,830 C300,830 215,780 215,700 Z"/>
<ellipse class="n" cx="405" cy="425" rx="140" ry="60"/>
<ellipse class="k" cx="400" cy="420" rx="95" ry="40"/>
<path class="n" d="M240,490 C280,520 320,540 330,545 M480,510 C520,520 550,510 570,490"/>
</g>
<!-- /T:p3 -->
<!-- T:p46 -->
<g transform="translate(780 455) scale(0.07831)">
<path class="k" d="M120,160 C120,110 160,90 205,90 C250,90 290,110 290,160 L290,200 C290,230 250,245 205,245 C160,245 120,230 120,200 Z"/>
<ellipse class="n" cx="205" cy="150" rx="62" ry="38"/>
<ellipse class="k" cx="210" cy="140" rx="32" ry="22"/>
<path class="n" d="M165,200 L165,240 M245,200 L245,240 M130,190 C160,205 250,205 285,190"/>
<ellipse class="k" cx="200" cy="330" rx="78" ry="52"/>
<ellipse class="k" cx="200" cy="323" rx="38" ry="22"/>
<path class="k" d="M155,470 C155,450 180,440 200,440 C225,440 250,450 250,470 L250,930 C250,950 225,955 200,955 C175,955 155,950 155,930 Z"/>
<path class="n" d="M168,490 L190,484 M218,490 L240,484 M168,512 L190,506 M218,512 L240,506 M168,534 L190,528 M218,534 L240,528 M168,556 L190,550 M218,556 L240,550 M168,578 L190,572 M218,578 L240,572 M168,600 L190,594 M218,600 L240,594 M168,622 L190,616 M218,622 L240,616 M168,644 L190,638 M218,644 L240,638 M168,666 L190,660 M218,666 L240,660 M168,688 L190,682 M218,688 L240,682 M168,825 L190,819 M218,825 L240,819 M168,847 L190,841 M218,847 L240,841 M168,869 L190,863 M218,869 L240,863 M168,891 L190,885 M218,891 L240,885 M168,913 L190,907 M218,913 L240,907 M168,935 L190,929 M218,935 L240,929 M205,480 L205,700 M205,820 L205,940"/>
</g>
<!-- /T:p46 -->
<!-- T:dash -->
<g transform="translate(690 490) scale(0.09375)">
<path stroke-width="1.1" d="M0,175 L30,180 M45,183 L55,185 M95,192 L430,258 L430,70"/>
<path stroke-width="1.1" d="M0,290 L150,330 M175,335 L185,337 M210,345 L610,432 M640,438 L650,440 M675,445 L1125,548 L1125,435"/>
</g>
<!-- /T:dash -->
<!-- T:stud1 -->
<g transform="translate(660 465) scale(0.03427)">
<path class="k" d="M300,510 L830,235 C950,250 1020,350 1010,505 L390,830"/>
<path class="n" stroke-width="1.2" d="M406,455 L466,525 M459,428 L519,498 M512,400 L572,470 M565,372 L625,442 M618,345 L678,415 M671,318 L731,388 M724,290 L784,360 M777,262 L837,332 M514,765 L504,685 M576,732 L566,652 M638,700 L628,620 M700,668 L690,588 M762,635 L752,555 M824,602 L814,522 M886,570 L876,490 M948,538 L938,458"/>
</g>
<!-- /T:stud1 -->
<!-- T:capA -->
<g transform="translate(400 285) scale(0.12500)">
<path class="k" d="M460,495 C460,450 520,425 592,424 C670,424 724,452 724,490 C724,515 705,538 675,552"/>
<path class="n" d="M472,522 C500,555 560,566 620,563 C645,561 665,557 675,552 M722,505 L720,548"/>
<path class="k" d="M460,495 L458,560 C462,585 475,600 492,608 M488,565 L498,585 L525,580"/>
<path class="n" d="M470,545 C520,580 640,585 700,560 M492,608 C540,668 690,676 770,625"/>
<ellipse class="k" cx="668" cy="212" rx="53" ry="78" transform="rotate(-15 668 212)"/>
<ellipse class="k" cx="674" cy="214" rx="24" ry="31" transform="rotate(-15 674 214)"/>
</g>
<!-- /T:capA -->
<!-- T:breather -->
<g transform="translate(468 392) scale(0.03917)">
<path class="k" fill="#fff" d="M185,650 L185,250 C200,190 280,160 390,160 C500,160 580,190 600,250 L605,650 C640,700 640,760 600,800 C560,850 470,870 390,870 C300,870 210,850 160,800 C140,760 150,700 185,650 Z"/>
<path class="n" d="M200,320 C230,370 280,400 330,400 M420,410 C470,400 540,380 580,340 M160,740 C220,800 330,830 400,830 C500,830 580,800 620,740 M170,790 C260,840 350,850 420,850"/>
<path class="n" d="M340,0 L340,150 M470,0 L470,160 M240,0 L260,150 M800,130 L640,600 M0,550 C60,570 120,560 170,540 M640,700 L817,600 M650,830 L817,720"/>
<path class="k" d="M780,0 L620,380 M580,880 C560,950 480,970 380,1000"/>
</g>
<!-- /T:breather -->
<!-- T:studsL -->
<g transform="translate(300 440) scale(0.12500)">
<path class="k" d="M231,325 L346,370 M259,255 L374,300"/>
<ellipse class="k" cx="245" cy="290" rx="38" ry="17" transform="rotate(111 245 290)"/>
<path class="n" stroke-width="1.2" d="M244,326 L275,265 M256,331 L286,269 M267,335 L298,274 M279,340 L309,278 M290,344 L321,283 M302,349 L332,287 M313,353 L344,292 M325,358 L355,296 M336,362 L367,301"/>
<path class="k" d="M522,179 L592,199 M538,121 L608,141"/>
<ellipse class="k" cx="530" cy="150" rx="30" ry="14" transform="rotate(106 530 150)"/>
<path class="n" stroke-width="1.2" d="M534,179 L555,129 M546,183 L567,132 M558,186 L578,136 M569,189 L590,139 M581,193 L602,142"/>
</g>
<!-- /T:studsL -->
<!-- T:nuts -->
<g transform="translate(0 0) scale(1.00000)">
<circle cx="329.1" cy="511.8" r="2.5" fill="#666" stroke="none"/>
<path class="n" d="M325.8,508.9 L330.1,506.6 L334.3,508.9 L334.6,513.5 L330.7,516.1 L326.5,513.8 Z"/>
<path class="n" d="M332.0,504.4 C337.8,505.3 339.1,515.1 333.3,517.7"/>
<circle cx="430.4" cy="424.3" r="2.5" fill="#666" stroke="none"/>
<path class="n" d="M427.1,421.4 L431.4,419.1 L435.6,421.4 L435.9,426.0 L432.0,428.6 L427.8,426.3 Z"/>
<path class="n" d="M433.3,416.9 C439.1,417.8 440.4,427.6 434.6,430.2"/>
<circle cx="476.0" cy="448.4" r="2.1" fill="#666" stroke="none"/>
<path class="n" d="M473.3,445.9 L476.8,443.9 L480.4,445.9 L480.7,449.7 L477.4,451.9 L473.8,450.0 Z"/>
<path class="n" d="M478.5,442.0 C483.4,442.9 484.5,451.1 479.6,453.3"/>
<circle cx="404.7" cy="592.1" r="2.5" fill="#666" stroke="none"/>
<path class="n" d="M401.4,589.2 L405.7,587.0 L409.9,589.2 L410.2,593.8 L406.3,596.4 L402.1,594.1 Z"/>
<path class="n" d="M407.6,584.7 C413.4,585.6 414.8,595.4 408.9,598.0"/>
<circle cx="569.5" cy="509.9" r="2.4" fill="#666" stroke="none"/>
<path class="n" d="M566.4,507.1 L570.4,505.0 L574.4,507.1 L574.7,511.5 L571.0,514.0 L567.0,511.8 Z"/>
<path class="n" d="M572.2,502.8 C577.8,503.7 579.1,513.0 573.5,515.5"/>
<circle cx="611.7" cy="557.4" r="2.5" fill="#666" stroke="none"/>
<path class="n" d="M608.4,554.4 L612.6,552.2 L616.9,554.4 L617.2,559.0 L613.3,561.6 L609.1,559.3 Z"/>
<path class="n" d="M614.6,549.9 C620.4,550.9 621.8,560.6 615.9,563.2"/>
<circle cx="381.6" cy="662.0" r="2.2" fill="#666" stroke="none"/>
<path class="n" d="M378.6,659.4 L382.4,657.3 L386.2,659.4 L386.5,663.4 L383.0,665.8 L379.2,663.7 Z"/>
<path class="n" d="M384.2,655.3 C389.4,656.2 390.5,664.9 385.3,667.2"/>
<circle cx="545.4" cy="664.1" r="2.2" fill="#666" stroke="none"/>
<path class="n" d="M542.5,661.5 L546.3,659.4 L550.1,661.5 L550.4,665.5 L546.9,667.9 L543.1,665.8 Z"/>
<path class="n" d="M548.1,657.4 C553.3,658.3 554.4,667.0 549.2,669.3"/>
<circle cx="595.2" cy="689.5" r="2.3" fill="#666" stroke="none"/>
<path class="n" d="M592.2,686.8 L596.1,684.7 L600.0,686.8 L600.3,691.0 L596.7,693.4 L592.8,691.3 Z"/>
<path class="n" d="M597.9,682.6 C603.3,683.5 604.5,692.5 599.1,694.9"/>
<circle cx="639.9" cy="618.9" r="2.6" fill="#666" stroke="none"/>
<path class="n" d="M636.5,615.8 L640.9,613.4 L645.3,615.8 L645.7,620.6 L641.6,623.3 L637.2,620.9 Z"/>
<path class="n" d="M643.0,611.1 C649.1,612.1 650.4,622.3 644.3,625.0"/>
<circle cx="631.9" cy="666.9" r="2.5" fill="#666" stroke="none"/>
<path class="n" d="M628.6,664.0 L632.9,661.8 L637.1,664.0 L637.4,668.6 L633.5,671.2 L629.3,668.9 Z"/>
<path class="n" d="M634.8,659.5 C640.6,660.4 642.0,670.2 636.1,672.8"/>
</g>
<!-- /T:nuts -->
<!-- T:seal -->
<g transform="translate(540 570) scale(0.05875)">
<ellipse class="m" cx="450" cy="545" rx="290" ry="375" transform="rotate(-22 450 545)"/>
<ellipse class="n" cx="455" cy="540" rx="250" ry="330" transform="rotate(-22 455 540)"/>
<ellipse class="k" cx="515" cy="480" rx="140" ry="225" transform="rotate(-20 515 480)"/>
<ellipse class="n" cx="530" cy="470" rx="100" ry="190" transform="rotate(-20 530 470)"/>
<path class="k" stroke-width="3.5" d="M265,300 C300,255 350,235 400,245"/>
<path class="n" d="M230,350 L290,340 M240,400 L300,390 M250,450 L305,440 M260,500 L310,495 M270,550 L315,545 M340,700 L560,740 M360,680 L600,720 M380,660 L620,700 M690,620 L720,640 M600,300 L620,320 M690,480 L700,500"/>
</g>
<!-- /T:seal -->
<!-- T:nuts2 -->
<g transform="translate(0 0) scale(1.00000)">
<ellipse class="m" cx="366" cy="544" rx="6" ry="6"/>
<circle cx="364.5" cy="544.6" r="2.3" fill="#666" stroke="none"/>
<path class="n" d="M361.5,541.9 L365.4,539.8 L369.3,541.9 L369.6,546.1 L366.0,548.5 L362.1,546.4 Z"/>
<path class="n" d="M367.2,537.7 C372.6,538.6 373.8,547.6 368.4,550.0"/>
<ellipse class="n" cx="326" cy="574" rx="4.5" ry="4.5"/>
<circle cx="324.8" cy="574.5" r="1.9" fill="#666" stroke="none"/>
<path class="n" d="M322.2,572.2 L325.5,570.5 L328.8,572.2 L329.0,575.8 L326.0,577.8 L322.8,576.0 Z"/>
<path class="n" d="M327.0,568.8 C331.5,569.5 332.5,577.0 328.0,579.0"/>
<ellipse class="m" cx="523.5" cy="470.5" rx="5.5" ry="5.5"/>
<circle cx="522.1" cy="471.1" r="2.1" fill="#666" stroke="none"/>
<path class="n" d="M519.4,468.6 L523.0,466.6 L526.5,468.6 L526.8,472.4 L523.5,474.6 L519.9,472.7 Z"/>
<path class="n" d="M524.6,464.7 C529.5,465.6 530.6,473.8 525.7,476.0"/>
</g>
<!-- /T:nuts2 -->
<!-- T:hexbolt -->
<g transform="translate(540 600) scale(0.10941)">
<path class="k" d="M220,560 C220,520 250,500 290,500 L330,502 C355,510 370,540 372,570 L365,630 C350,660 310,672 280,668 C240,660 215,630 215,600 Z"/>
<path class="n" d="M235,545 L290,520 L345,535 L350,590 L290,620 L240,600 Z M290,620 L285,668"/>
</g>
<!-- /T:hexbolt -->
<!-- T:conn_fix -->
<g transform="translate(400 349) scale(0.06270)">
<path class="n" d="M470,420 C465,300 480,220 520,180 C545,150 580,135 620,135 M1020,700 C1060,760 1080,850 1070,940 M1180,600 C1200,700 1190,820 1150,900 M870,740 L880,800"/>
<path class="k" d="M0,985 C150,1000 300,1010 420,1000 L720,870"/>
</g>
<!-- /T:conn_fix -->
<!-- T:lug -->
<g transform="translate(600 520) scale(0.04407)">
<path class="k" d="M200,690 C160,600 100,450 90,320 C85,200 150,100 280,92 C400,90 500,180 560,320 C600,420 595,500 590,560 L592,700 C600,800 640,840 700,840 L790,795 C830,800 860,840 850,1000"/>
<path class="n" d="M250,130 C350,150 420,200 440,260 M470,330 C510,420 530,520 520,650 C510,750 540,830 580,880"/>
<ellipse class="k" cx="322" cy="430" rx="92" ry="168" transform="rotate(-22 322 430)"/>
<ellipse class="n" cx="345" cy="440" rx="55" ry="145" transform="rotate(-22 345 440)"/>
<path class="k" stroke-width="3" d="M225,330 C230,290 255,270 290,275"/>
</g>
<!-- /T:lug -->
<!--END-->
</g>
</svg>
</body></html>
